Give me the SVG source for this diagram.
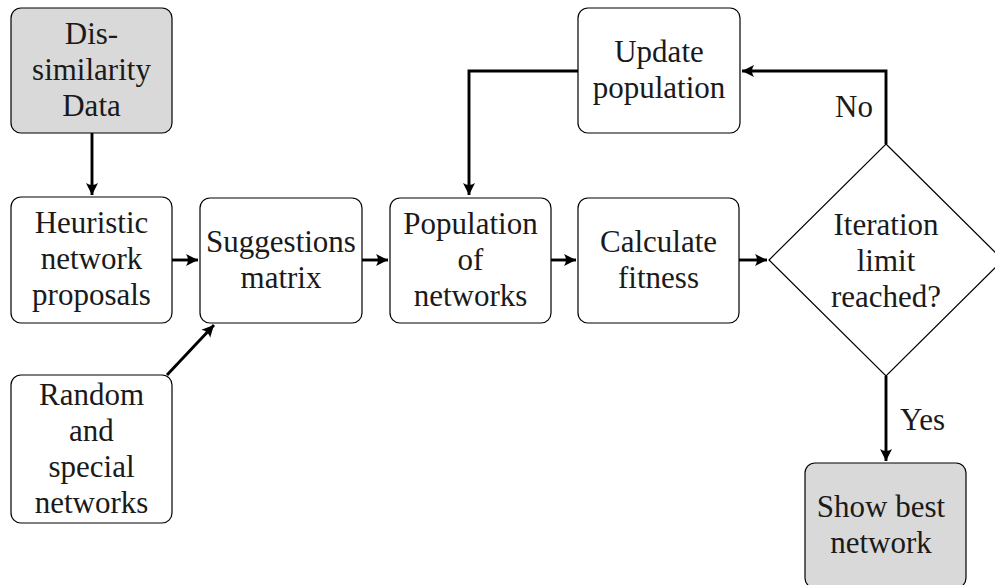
<svg xmlns="http://www.w3.org/2000/svg" width="995" height="585" viewBox="0 0 995 585">
<defs>
<style>
.box{fill:#ffffff;stroke:#000;stroke-width:1.2}
.grey{fill:#d9d9d9}
.t{font-family:"Liberation Serif","Times New Roman",serif;font-size:31px;fill:#1a1a1a;text-anchor:middle}
.lbl{font-family:"Liberation Serif","Times New Roman",serif;font-size:31px;fill:#1a1a1a}
.c{fill:none;stroke:#000;stroke-width:2.9}
</style>
<marker id="ah" markerUnits="userSpaceOnUse" markerWidth="16" markerHeight="16" viewBox="-13 -8 16 16" refX="0" refY="0" orient="auto">
<path d="M0,0 L-12,-6 Q-8,0 -12,6 Z" fill="#000"/>
</marker>
</defs>
<rect width="995" height="585" fill="#fff"/>
<g id="connectors">
<path class="c" d="M92,133 L92,195" marker-end="url(#ah)"/>
<path class="c" d="M172,260 L198,260" marker-end="url(#ah)"/>
<path class="c" d="M167,375 L214,325" marker-end="url(#ah)"/>
<path class="c" d="M362,260 L388,260" marker-end="url(#ah)"/>
<path class="c" d="M551,260 L576,260" marker-end="url(#ah)"/>
<path class="c" d="M739,260 L767,260" marker-end="url(#ah)"/>
<path class="c" d="M886,144 L886,71 L742,71" marker-end="url(#ah)"/>
<path class="c" d="M578,71 L469,71 L469,195" marker-end="url(#ah)"/>
<path class="c" d="M886,376 L886,461" marker-end="url(#ah)"/>
<text class="lbl" x="873" y="117" text-anchor="end">No</text>
<text class="lbl" x="900" y="430">Yes</text>
</g>
<g id="dissimilarity">
<rect class="box grey" x="11" y="8" width="161" height="125" rx="10"/>
<text class="t" x="91.5" y="44">Dis-</text>
<text class="t" x="91.5" y="80">similarity</text>
<text class="t" x="91.5" y="116">Data</text>
</g>
<g id="heuristic">
<rect class="box" x="11" y="197" width="161" height="126" rx="10"/>
<text class="t" x="91.5" y="233">Heuristic</text>
<text class="t" x="91.5" y="269">network</text>
<text class="t" x="91.5" y="305">proposals</text>
</g>
<g id="random">
<rect class="box" x="11" y="375" width="161" height="148" rx="10"/>
<text class="t" x="91.5" y="405">Random</text>
<text class="t" x="91.5" y="441">and</text>
<text class="t" x="91.5" y="477">special</text>
<text class="t" x="91.5" y="513">networks</text>
</g>
<g id="suggestions">
<rect class="box" x="200" y="198" width="162" height="125" rx="10"/>
<text class="t" x="281" y="252">Suggestions</text>
<text class="t" x="281" y="288">matrix</text>
</g>
<g id="population">
<rect class="box" x="390" y="198" width="161" height="125" rx="10"/>
<text class="t" x="470.5" y="234">Population</text>
<text class="t" x="470.5" y="270">of</text>
<text class="t" x="470.5" y="306">networks</text>
</g>
<g id="fitness">
<rect class="box" x="578" y="198" width="161" height="125" rx="10"/>
<text class="t" x="658.5" y="252">Calculate</text>
<text class="t" x="658.5" y="288">fitness</text>
</g>
<g id="update">
<rect class="box" x="578" y="8" width="162" height="125" rx="10"/>
<text class="t" x="659" y="62">Update</text>
<text class="t" x="659" y="98">population</text>
</g>
<g id="decision">
<polygon class="box" points="886,144 1003,260 886,376 769,260"/>
<text class="t" x="886" y="235">Iteration</text>
<text class="t" x="886" y="271">limit</text>
<text class="t" x="886" y="307">reached?</text>
</g>
<g id="best">
<rect class="box grey" x="805" y="463" width="161" height="125" rx="10"/>
<text class="t" x="881" y="517">Show best</text>
<text class="t" x="881" y="553">network</text>
</g>
</svg>
